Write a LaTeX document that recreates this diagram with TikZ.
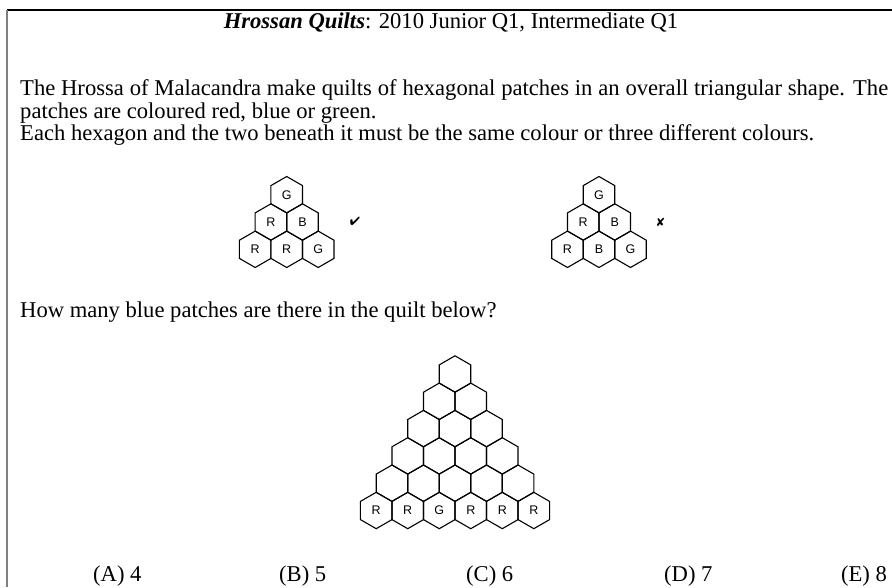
\documentclass[tikz,border=0pt]{standalone}
\usepackage{fontspec}
\setmainfont{Liberation Serif}
\setsansfont{Liberation Sans}
\usepackage{pifont}
\usetikzlibrary{positioning,calc}
\tikzset{
  hexpatch/.style={line width=1.1pt,line join=miter},
  patchlbl/.style={font=\sffamily\fontsize{12.5}{14}\selectfont,inner sep=0pt},
  bodytext/.style={font=\fontsize{22.6}{27}\selectfont,inner sep=0pt,anchor=base west},
  markmk/.style={font=\fontsize{12}{14}\selectfont,inner sep=0pt},
}
\def\hexr{18.2}
\def\hexw{31.52}
\def\hexh{27.3}
% one hexagonal patch: centre x, centre y, label, name
\newcommand\hexpatchat[4]{%
  \draw[hexpatch] ({#1},{#2}) +(90:\hexr) -- +(150:\hexr) -- +(210:\hexr) -- +(270:\hexr)
    -- +(330:\hexr) -- +(30:\hexr) -- cycle;
  \node[patchlbl] (#4) at ({#1},{#2}) {#3};}
\begin{document}
\begin{tikzpicture}[x=1pt,y=-1pt]
  \useasboundingbox (0,0) rectangle (892,587);
  % frame
  \draw[line width=1.4pt] (7,10) -- (892,10);
  \draw[gray,line width=2pt] (7,10) -- (7,587);
  % texts
  \node[bodytext,anchor=base] (title) at (451,28)
    {\textbf{\textit{Hrossan Quilts}}: 2010 Junior Q1, Intermediate Q1};
  \node[bodytext] (line1) at (20,95)
    {\makebox[868pt][s]{The Hrossa of Malacandra make quilts of hexagonal patches in an overall triangular shape. The}};
  \node[bodytext] (line2) at (20,118) {patches are coloured red, blue or green.};
  \node[bodytext] (line3) at (20,140) {Each hexagon and the two beneath it must be the same colour or three different colours.};
  \node[bodytext] (ask) at (20,317) {How many blue patches are there in the quilt below?};
  % small quilt, allowed
  \foreach \i/\j/\c in {0/0/G,1/0/R,1/1/B,2/0/R,2/1/R,2/2/G}
    \hexpatchat{286.7+(\j-\i/2)*\hexw}{194.7+\i*\hexh}{\c}{ok-\i-\j};
  \node[markmk] (okmark) at (355,221.7) {\ding{52}};
  % small quilt, not allowed
  \foreach \i/\j/\c in {0/0/G,1/0/R,1/1/B,2/0/R,2/1/B,2/2/G}
    \hexpatchat{599+(\j-\i/2)*\hexw}{194.7+\i*\hexh}{\c}{bad-\i-\j};
  \node[markmk] (badmark) at (660.7,222) {\ding{56}};
  % big quilt
  \foreach \i in {0,...,4}
    \foreach \j in {0,...,\i}
      \hexpatchat{455+(\j-\i/2)*\hexw}{374+\i*\hexh}{}{big-\i-\j};
  \foreach \c [count=\j from 0] in {R,R,G,R,R,R}
    \hexpatchat{455+(\j-2.5)*\hexw}{374+5*\hexh}{\c}{big-5-\j};
  % answers
  \node[bodytext] (ansA) at (93,581) {(A) 4};
  \node[bodytext] (ansB) at (279,581) {(B) 5};
  \node[bodytext] (ansC) at (466,581) {(C) 6};
  \node[bodytext] (ansD) at (664,581) {(D) 7};
  \node[bodytext,anchor=base east] (ansE) at (887,581) {(E) 8};
\end{tikzpicture}
\end{document}
